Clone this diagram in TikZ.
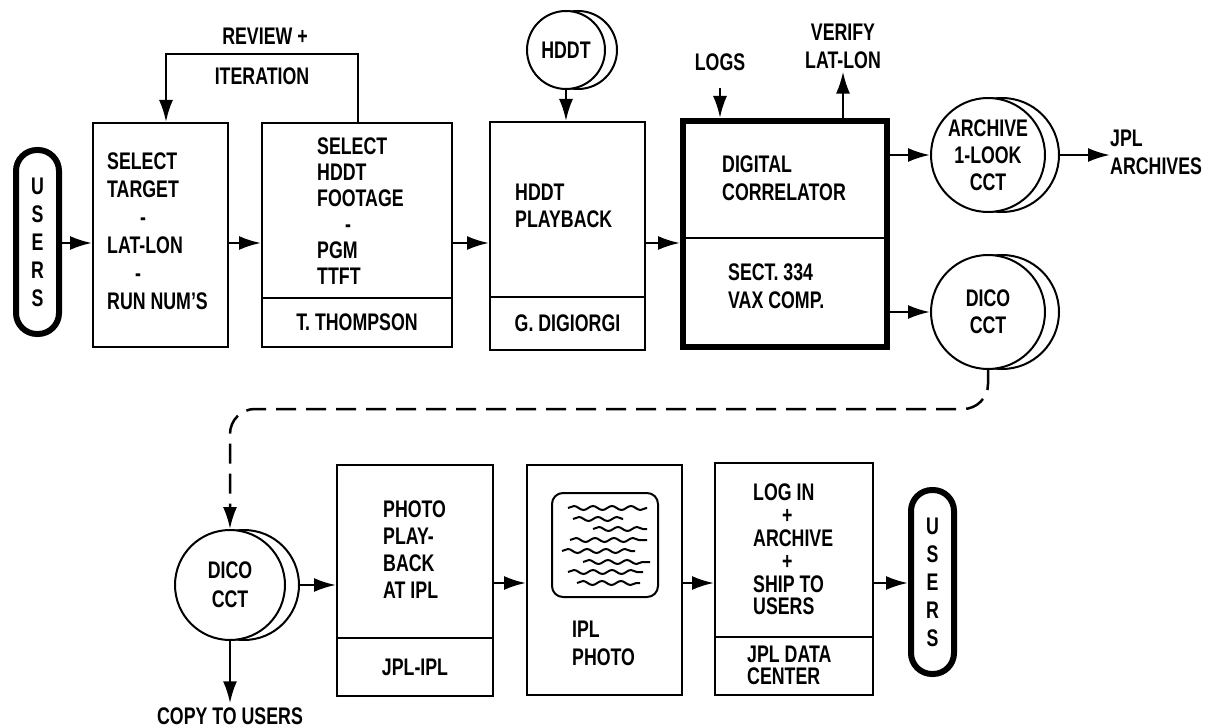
\documentclass[tikz,border=0pt]{standalone}
\usepackage{fontspec}
\setmainfont{Liberation Sans}[FakeStretch=0.74]
\usetikzlibrary{arrows.meta,decorations.pathmorphing,calc}
\begin{document}
\begin{tikzpicture}[x=1pt,y=-1pt,
  every node/.style={font=\fontsize{24}{28}\selectfont\bfseries, inner sep=0pt},
  box/.style={draw, line width=2pt, rectangle},
  heavy/.style={draw, line width=6pt, rectangle},
  pill/.style={draw, line width=6pt, rectangle, rounded corners=21pt, minimum width=43pt, minimum height=184pt, align=center},
  reel/.style={draw, circle, line width=2pt, fill=white, align=center},
  backreel/.style={line width=2pt},
  txt/.style={align=left, anchor=north west},
  arr/.style={line width=2.5pt, -{Latex[length=22pt,width=14pt]}},
  dashy/.style={line width=2.5pt, dash pattern=on 20pt off 10pt, -{Latex[length=22pt,width=14pt]}},
  wave/.style={line width=2pt, decorate, decoration={snake, segment length=19pt, amplitude=2pt}}
]
\useasboundingbox (0,0) rectangle (1218,727);
% row coordinates
\coordinate (row1) at (0,243);
\coordinate (row2) at (0,583);
\coordinate (loopL) at (166,54);
\coordinate (loopR) at (358,54);
\coordinate (turn) at (230,409);

% ---------- top row ----------
\node[pill] (u1) at (37.5,242) {U\\S\\E\\R\\S};

\node[box, minimum width=135pt, minimum height=224pt] (b1) at (160.5,235) {};
\node[txt] (b1t) at (107,153) {SELECT\\TARGET\\\hspace*{33pt}-\\LAT-LON\\\hspace*{28pt}-\\RUN NUM'S};

\node[box, minimum width=190pt, minimum height=175pt] (b2u) at (357,210.5) {};
\node[box, minimum width=190pt, minimum height=49pt] (b2l) at (357,322.5) {T. THOMPSON};
\node[txt, font=\fontsize{24}{26}\selectfont\bfseries] (b2t) at (317,138) {SELECT\\HDDT\\FOOTAGE\\\hspace*{28pt}-\\PGM\\TTFT};

\node[box, minimum width=155pt, minimum height=175pt] (b3u) at (567.5,209.5) {};
\node[box, minimum width=155pt, minimum height=53pt] (b3l) at (567.5,323.5) {G. DIGIORGI};
\node[txt, font=\fontsize{24}{27}\selectfont\bfseries] (b3t) at (515,184) {HDDT\\PLAYBACK};

\node[heavy, minimum width=204pt, minimum height=226pt] (dc) at (785,234) {};
\draw[line width=2pt] ($(dc.west)+(3,4)$) -- ($(dc.east)+(-3,4)$);
\node[txt] (dct) at (722,156) {DIGITAL\\CORRELATOR};
\node[txt] (dcb) at (728,264) {SECT. 334\\VAX COMP.};

% HDDT reel
\coordinate (hc) at (566,50);
\draw[backreel] ([xshift=12pt]hc) circle[radius=39pt];
\node[reel, minimum size=78pt] (hddt) at (hc) {HDDT};

% labels
\node (rev) at (265,36) {REVIEW +};
\node (iter) at (262,76) {ITERATION};
\node (logs) at (720,62) {LOGS};
\node[align=center] (ver) at (843,46) {VERIFY\\LAT-LON};

% archive reel
\coordinate (ac) at (988,155);
\draw[backreel] ([xshift=14pt]ac) circle[radius=57pt];
\node[reel, minimum size=114pt, font=\fontsize{24}{27}\selectfont\bfseries] (arch) at (ac) {ARCHIVE\\1-LOOK\\CCT};
\node[align=left, anchor=west] (jpl) at (1110,152) {JPL\\ARCHIVES};

% dico reel top
\coordinate (d1c) at (988,312);
\draw[backreel] ([xshift=14pt]d1c) circle[radius=57pt];
\node[reel, minimum size=114pt, font=\fontsize{24}{27}\selectfont\bfseries] (dico1) at (d1c) {DICO\\CCT};

% ---------- bottom row ----------
\coordinate (d2c) at (230,585);
\draw[backreel] ([xshift=14pt]d2c) circle[radius=55pt];
\node[reel, minimum size=110pt, font=\fontsize{24}{29}\selectfont\bfseries] (dico2) at (d2c) {DICO\\CCT};
\node (copy) at (230,716) {COPY TO USERS};

\node[box, minimum width=156pt, minimum height=173pt] (pbu) at (415,551.5) {};
\node[box, minimum width=156pt, minimum height=58pt] (pbl) at (415,667) {JPL-IPL};
\node[txt, font=\fontsize{24}{27}\selectfont\bfseries] (pbt) at (383,501) {PHOTO\\PLAY-\\BACK\\AT IPL};

\node[box, minimum width=155pt, minimum height=230pt] (ipl) at (604.5,580) {};
\node[box, rounded corners=11pt, minimum width=106pt, minimum height=104pt] (pic) at (605,545) {};
\node[txt] (iplt) at (572,621) {IPL\\PHOTO};
\draw[wave] (568,508) -- (647,508);
\draw[wave] (573,519) -- (623,519);
\draw[wave] (593,529) -- (647,529);
\draw[wave] (570,540) -- (647,540);
\draw[wave] (562,551) -- (635,551);
\draw[wave] (583,562) -- (650,562);
\draw[wave] (568,572) -- (643,572);
\draw[wave] (577,583) -- (640,583);

\node[box, minimum width=158pt, minimum height=174pt] (lbu) at (794,550) {};
\node[box, minimum width=158pt, minimum height=58pt] (lbl) at (794,666) {};
\node[txt, font=\fontsize{24}{22.8}\selectfont\bfseries] (lbt) at (753,484) {LOG IN\\\hspace*{29pt}+\\ARCHIVE\\\hspace*{29pt}+\\SHIP TO\\USERS};
\node[txt, font=\fontsize{24}{22}\selectfont\bfseries] (lbb) at (747,646) {JPL DATA\\CENTER};

\node[pill] (u2) at (932.5,582) {U\\S\\E\\R\\S};

% ---------- connectors ----------
\draw[arr] (u1.east |- row1) -- (b1.west |- row1);
\draw[arr] (b1.east |- row1) -- (b2u.west |- row1);
\draw[arr] (b2u.east |- row1) -- (b3u.west |- row1);
\draw[arr] (b3u.east |- row1) -- (dc.west |- row1);
\draw[arr] (loopR |- b2u.north) -- (loopR) -- (loopL) -- (loopL |- b1.north);
\draw[arr] (hddt.south) -- (hddt.south |- b3u.north);
\draw[arr] ([yshift=-17pt]logs.south) -- (logs.south |- dc.north);
\draw[arr] (dc.north -| ver.south) -- ([yshift=-3pt]ver.south);
\draw[arr] (dc.east |- arch.west) -- (arch.west);
\draw[arr] ([xshift=14pt]arch.east) -- (arch.east -| jpl.west);
\draw[arr] (dc.east |- dico1.west) -- (dico1.west);
\draw[dashy, rounded corners=25pt] (dico1.south) |- (turn) -- (dico2.north);
\draw[arr] (dico2.south) -- ([yshift=4pt]copy.north);
\draw[arr] ([xshift=14pt]dico2.east) -- (dico2.east -| pbu.west);
\draw[arr] (pbu.east |- row2) -- (ipl.west |- row2);
\draw[arr] (ipl.east |- row2) -- (lbu.west |- row2);
\draw[arr] (lbu.east |- row2) -- (u2.west |- row2);
\end{tikzpicture}
\end{document}
